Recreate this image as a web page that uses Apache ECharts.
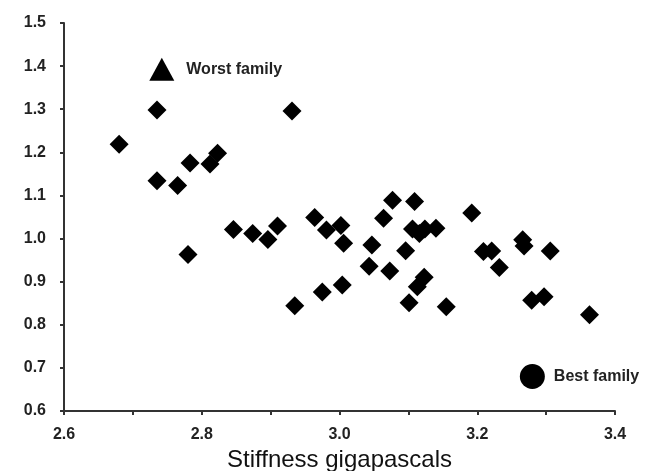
<!DOCTYPE html>
<html>
<head>
<meta charset="utf-8">
<script src="https://cdn.jsdelivr.net/npm/echarts@6/dist/echarts.min.js"></script>
<style>
html,body{margin:0;padding:0;background:#fff;}
#chart{width:651px;height:471px;}
</style>
</head>
<body>
<div id="chart"></div>
<script>
// Stiffness (GPa) of each family
const stiffness = [2.680, 2.735, 2.735, 2.765, 2.783, 2.812, 2.823, 2.780, 2.846, 2.874, 2.896, 2.910, 2.931, 2.935, 2.975,
  2.964, 2.981, 3.002, 3.006, 3.047, 3.043, 3.073, 3.004, 3.077, 3.109, 3.064, 3.106, 3.116, 3.124, 3.140,
  3.096, 3.123, 3.113, 3.101, 3.155, 3.192, 3.209, 3.221, 3.232, 3.266, 3.268, 3.306, 3.279, 3.297, 3.363];
const yValues = [1.219, 1.298, 1.134, 1.123, 1.175, 1.173, 1.198, 0.963, 1.021, 1.012, 0.998, 1.029, 1.296, 0.844, 0.876,
  1.049, 1.020, 1.030, 0.989, 0.985, 0.936, 0.925, 0.892, 1.089, 1.086, 1.047, 1.022, 1.012, 1.022, 1.024,
  0.972, 0.910, 0.888, 0.851, 0.842, 1.059, 0.970, 0.971, 0.933, 0.997, 0.983, 0.971, 0.857, 0.865, 0.823];
const worstFamily = [2.742, 1.393];
const bestFamily = [3.280, 0.680];
const worstLabel = 'Worst family';
const bestLabel = 'Best family';
const xAxisTitle = 'Stiffness gigapascals';

const points = stiffness.map((x, i) => [x, yValues[i]]);
const tickFont = {fontFamily: '"Liberation Sans", Arial, sans-serif', fontWeight: 'bold', fontSize: 16, color: '#222'};

const chart = echarts.init(document.getElementById('chart'), null, {renderer: 'canvas'});
chart.setOption({
  animation: false,
  backgroundColor: '#fff',
  grid: {left: 64, right: 36, top: 23, bottom: 60, containLabel: false, outerBoundsMode: 'none'},
  xAxis: {
    type: 'value', min: 2.6, max: 3.4, interval: 0.1,
    name: xAxisTitle, nameLocation: 'middle', nameGap: 36,
    nameTextStyle: {fontFamily: '"Liberation Sans", Arial, sans-serif', fontSize: 24, color: '#111'},
    axisLine: {show: true, lineStyle: {color: '#333', width: 2}},
    axisTick: {show: true, inside: false, length: 4, lineStyle: {color: '#333', width: 2}},
    splitLine: {show: false},
    axisLabel: Object.assign({margin: 16, formatter: v => (Math.round(v * 10) % 2 === 0 ? v.toFixed(1) : '')}, tickFont)
  },
  yAxis: {
    type: 'value', min: 0.6, max: 1.5, interval: 0.1,
    axisLine: {show: true, lineStyle: {color: '#333', width: 2}},
    axisTick: {show: true, inside: false, length: 4, lineStyle: {color: '#333', width: 2}},
    splitLine: {show: false},
    axisLabel: Object.assign({margin: 18, formatter: v => v.toFixed(1)}, tickFont)
  },
  series: [
    {
      type: 'scatter', data: points, symbol: 'diamond', symbolSize: 19,
      itemStyle: {color: '#000', opacity: 1}, silent: true
    },
    {
      type: 'scatter', data: [worstFamily], symbol: 'triangle', symbolSize: [25, 23],
      itemStyle: {color: '#000', opacity: 1},
      label: {show: true, position: 'right', distance: 12, formatter: worstLabel,
        fontFamily: '"Liberation Sans", Arial, sans-serif', fontWeight: 'bold', fontSize: 16, color: '#222'}
    },
    {
      type: 'scatter', data: [bestFamily], symbol: 'circle', symbolSize: 25,
      itemStyle: {color: '#000', opacity: 1},
      label: {show: true, position: 'right', distance: 9, formatter: bestLabel,
        fontFamily: '"Liberation Sans", Arial, sans-serif', fontWeight: 'bold', fontSize: 16, color: '#222'}
    }
  ]
});
</script>
</body>
</html>
